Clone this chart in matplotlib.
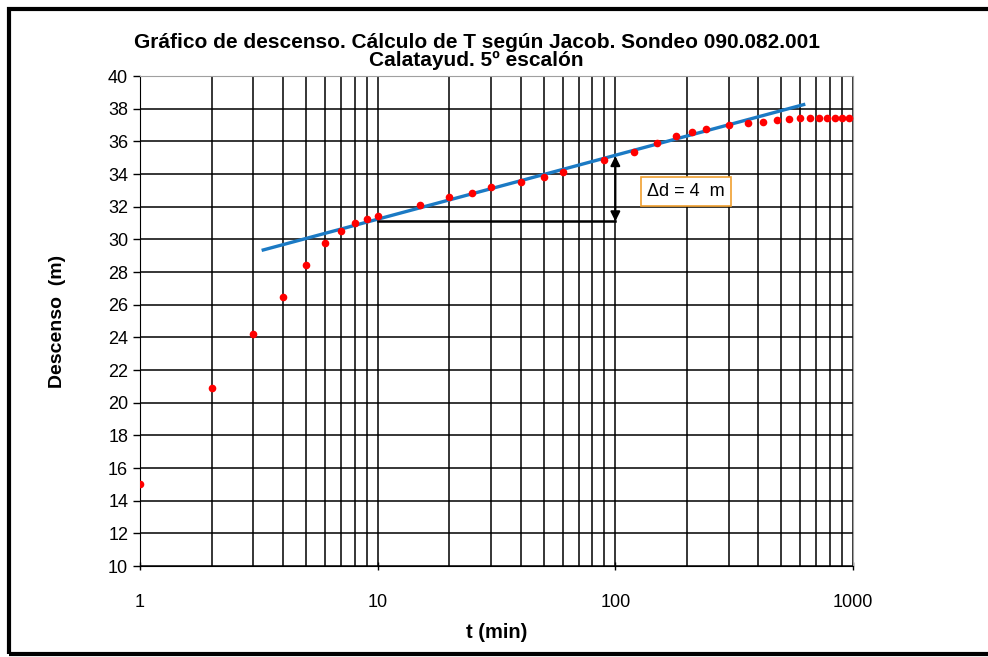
import numpy as np
import matplotlib.pyplot as plt
from matplotlib.patches import Rectangle

plt.rcParams['font.family'] = ['Liberation Sans', 'DejaVu Sans']

# datos del ensayo: tiempo (min) y descenso (m)
t_min = [1, 2, 3, 4, 5, 6, 7, 8, 9, 10, 15, 20, 25, 30, 40, 50, 60, 90,
         120, 150, 180, 210, 240, 300, 360, 420, 480, 540, 600, 660, 720,
         780, 840, 900, 960]
descenso = [15.0, 20.9, 24.2, 26.5, 28.4, 29.8, 30.5, 31.0, 31.25, 31.45,
            32.1, 32.6, 32.85, 33.2, 33.5, 33.8, 34.1, 34.85, 35.35, 35.9,
            36.3, 36.6, 36.75, 37.0, 37.1, 37.2, 37.3, 37.35, 37.4, 37.4,
            37.4, 37.4, 37.4, 37.4, 37.4]

# recta de Jacob
recta_t = [3.3, 620]
recta_s = [29.35, 38.25]

# cotas del delta
delta_t = [10, 100]
delta_s = [31.1, 35.1]

fig = plt.figure(figsize=(9.88, 6.57), dpi=100)
ax = fig.add_axes([0.1417, 0.1385, 0.7217, 0.7458])

ax.set_xscale('log')
ax.set_xlim(1, 1000)
ax.set_ylim(10, 40)
ax.set_yticks(np.arange(10, 41, 2))
ax.set_xticks([1, 10, 100, 1000])
ax.set_xticklabels(['1', '10', '100', '1000'])

ax.grid(True, which='major', color='black', linewidth=1.1)
ax.grid(True, which='minor', axis='x', color='black', linewidth=1.1)
ax.set_axisbelow(True)
ax.tick_params(axis='x', which='minor', length=0)
ax.tick_params(axis='x', which='major', length=6, width=1, direction='inout', pad=17, labelsize=13)
ax.tick_params(axis='y', length=5, width=1, labelsize=13)
for s in ['top', 'right']:
    ax.spines[s].set_color('#a0a0a0')
for s in ['left', 'bottom']:
    ax.spines[s].set_color('black')

ax.plot(recta_t, recta_s, color='#1b7ac4', linewidth=2.4, zorder=3)
ax.plot(t_min, descenso, 'o', color='red', markersize=5.5, markeredgewidth=0, zorder=4)

# linea horizontal y flecha doble
ax.plot(delta_t, [delta_s[0], delta_s[0]], color='black', linewidth=1.8, zorder=3)
ax.annotate('', xy=(delta_t[1], delta_s[1]), xytext=(delta_t[1], delta_s[0]),
            arrowprops=dict(arrowstyle='<|-|>', color='black', lw=1.5,
                            mutation_scale=14, shrinkA=0, shrinkB=0), zorder=3)
ax.text(136, 32.93, '\u0394d = 4  m', fontsize=13, va='center', ha='left',
        bbox=dict(boxstyle='square,pad=0.35', facecolor='white', edgecolor='#f0a030', linewidth=1.2),
        zorder=5)

ax.set_title('Gráfico de descenso. Cálculo de T según Jacob. Sondeo 090.082.001\nCalatayud. 5º escalón',
             fontsize=15, fontweight='bold', linespacing=0.95, pad=7, x=0.472)
ax.set_xlabel('t (min)', fontsize=14.5, fontweight='bold', labelpad=9)
ax.set_ylabel('Descenso  (m)', fontsize=14, fontweight='bold', labelpad=30)

# marco del grafico
fig.patches.append(Rectangle((9 / 988, 3 / 657), 1.1, 645 / 657, transform=fig.transFigure,
                             fill=False, edgecolor='black', linewidth=3))

fig.savefig('out.png', dpi=100)
